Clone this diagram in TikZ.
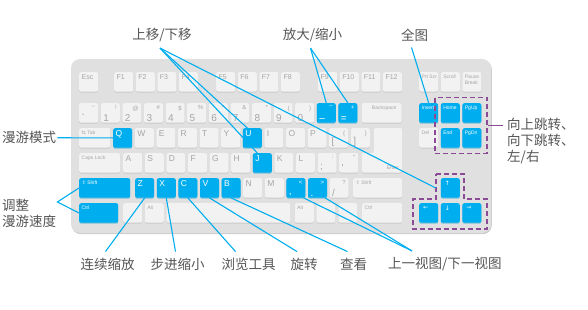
\documentclass[tikz,border=0pt]{standalone}
\usepackage{fontspec}
\newfontfamily\cjk{Noto Sans CJK SC}
\newfontfamily\keyfont{Liberation Sans}
\newfontfamily\symfont{DejaVu Sans}
\usepackage{tikz}
\usetikzlibrary{fit,shadows}
\definecolor{hotblue}{RGB}{0,174,239}
\definecolor{body}{RGB}{224,224,224}
\definecolor{keyface}{RGB}{242,242,242}
\definecolor{keyshade}{RGB}{202,202,202}
\definecolor{legendgray}{RGB}{165,165,165}
\definecolor{ink}{RGB}{85,85,85}
\definecolor{navpurple}{RGB}{138,74,150}
\tikzset{
  board/.style={fill=body, rounded corners=9pt,
              general shadow={fill=black!20, shadow xshift=0.8pt, shadow yshift=-1.2pt}},
  keybase/.style={rounded corners=2pt, minimum width=19pt, minimum height=19.5pt,
              inner sep=0pt, anchor=north west},
  key/.style={keybase, fill=keyface, general shadow={fill=keyshade, shadow yshift=-1pt}},
  hot/.style={keybase, fill=hotblue, general shadow={fill=keyshade!60!hotblue, shadow yshift=-1pt}},
  legbase/.style={text=legendgray, inner sep=0pt},
  leg/.style={legbase, font=\keyfont\fontsize{8.5}{9}\selectfont, anchor=north west, xshift=2.5pt, yshift=-2.5pt},
  hleg/.style={leg, text=white},
  fleg/.style={leg, font=\keyfont\fontsize{7}{8}\selectfont},
  tiny/.style={legbase, font=\keyfont\fontsize{5}{6}\selectfont, align=left},
  tleg/.style={tiny, anchor=north west, xshift=2.5pt, yshift=-3pt},
  htleg/.style={tleg, text=white},
  dleg/.style={legbase, font=\keyfont\fontsize{10}{10}\selectfont, anchor=south west, xshift=2.5pt, yshift=1.5pt},
  hdleg/.style={dleg, text=white},
  sleg/.style={legbase, font=\keyfont\fontsize{6}{7}\selectfont, anchor=north east, xshift=-3pt, yshift=-2.5pt},
  hsleg/.style={sleg, text=white},
  hsym/.style={legbase, text=white, font=\symfont\fontsize{6}{7}\selectfont, anchor=north west, xshift=4pt, yshift=-3pt},
  navbox/.style={draw=navpurple, line width=1.8pt, dash pattern=on 5pt off 3pt, inner sep=5.5pt},
  link/.style={hotblue, line width=1.1pt},
  navlink/.style={navpurple, line width=1.8pt},
  note/.style={font=\cjk\fontsize{13.5}{16}\selectfont, text=ink, inner xsep=1pt, inner ysep=6pt, align=left},
}
\begin{document}
\begin{tikzpicture}[x=1pt, y=-1pt]
\useasboundingbox (0,0) rectangle (588,310);

% keyboard body
\fill[board] (71,59) rectangle (491,233);

% function row
\node[key, label={[fleg]north west:Esc}] (kEsc) at (79,72) {};
\foreach \f/\x in {1/114,2/135.6,3/157.2,4/178.8,5/216,6/237.6,7/259.2,8/280.8,9/318,10/339.6,11/361.2,12/382.8}
  \node[key, label={[fleg]north west:F\f}] (kF\f) at (\x,72) {};
\node[key, label={[tleg]north west:Prt Scr}] (kPrt) at (419,72) {};
\node[key, label={[tleg]north west:Scroll}] (kScroll) at (440.6,72) {};
\node[key, label={[tleg]north west:Pause\\Break}] (kPause) at (462.2,72) {};

% number row
\foreach \lo/\up [count=\i from 0] in {\textasciigrave/\textasciitilde,1/!,2/@,3/\#,4/\$,5/\%,6/\textasciicircum,7/\&,8/*,9/(,0/)}
  \node[key, label={[dleg]south west:\lo}, label={[sleg]north east:\up}] (kn\i) at (79+\i*21.6,103) {};
\node[hot, label={[hdleg]south west:–}, label={[hsleg]north east:–}] (kMinus) at (316.6,103) {};
\node[hot, label={[hdleg]south west:{=}}, label={[hsleg]north east:{+}}] (kEqual) at (338.2,103) {};
\node[key, minimum width=40pt, label={[tleg, anchor=north]north:Backspace}] (kBack) at (361.5,103) {};
\node[hot, label={[htleg]north west:Insert}] (kIns) at (419,103) {};
\node[hot, label={[htleg]north west:Home}] (kHome) at (440.6,103) {};
\node[hot, label={[htleg]north west:PgUp}] (kPgUp) at (462.2,103) {};

% top letter row
\node[key, minimum width=31pt, label={[tleg]north west:{\symfont ⇆} Tab}] (kTab) at (79,128) {};
\foreach \l/\c in {Q/0,U/6}
  \node[hot, label={[hleg]north west:\l}] (k\l) at (113+\c*21.6,128) {};
\foreach \l/\c in {W/1,E/2,R/3,T/4,Y/5,I/7,O/8,P/9}
  \node[key, label={[leg]north west:\l}] (k\l) at (113+\c*21.6,128) {};
\node[key, label={[dleg]south west:{[}}, label={[sleg]north east:\{}] (kLBrack) at (329,128) {};
\node[key, label={[dleg]south west:{]}}, label={[sleg]north east:\}}] (kRBrack) at (350.6,128) {};
\fill[keyface, rounded corners=2pt, general shadow={fill=keyshade, shadow yshift=-1pt}]
  (374,128) -- (402,128) -- (402,172.5) -- (361.5,172.5) -- (361.5,153) -- (374,153) -- cycle;
\node[tiny, anchor=south east] (kEnter) at (399,170) {Enter};
\node[key, label={[tleg]north west:Del}] (kDel) at (419,128) {};
\node[hot, label={[htleg]north west:End}] (kEnd) at (440.6,128) {};
\node[hot, label={[htleg]north west:PgDn}] (kPgDn) at (462.2,128) {};

% home row
\node[key, minimum width=41pt, label={[tleg]north west:Caps Lock}] (kCaps) at (79,153) {};
\foreach \l/\c in {A/0,S/1,D/2,F/3,G/4,H/5,K/7,L/8}
  \node[key, label={[leg]north west:\l}] (k\l) at (123+\c*21.6,153) {};
\node[hot, label={[hleg]north west:J}] (kJ) at (252.6,153) {};
\node[key, label={[dleg]south west:;}, label={[sleg]north east:{:}}] (kSemi) at (317.4,153) {};
\node[key, label={[dleg]south west:\textquotesingle}, label={[sleg]north east:\textquotedbl}] (kQuote) at (339,153) {};

% bottom letter row
\node[hot, minimum width=51pt, label={[htleg]north west:{\symfont ⇧} Shift}] (kLShift) at (79,178) {};
\foreach \l/\c in {Z/0,X/1,C/2,V/3,B/4}
  \node[hot, label={[hleg]north west:\l}] (k\l) at (135+\c*21.6,178) {};
\foreach \l/\c in {N/5,M/6}
  \node[key, label={[leg]north west:\l}] (k\l) at (135+\c*21.6,178) {};
\node[hot, label={[hdleg]south west:{,}}, label={[hsleg]north east:{<}}] (kComma) at (286.2,178) {};
\node[hot, label={[hdleg]south west:{.}}, label={[hsleg]north east:{>}}] (kPeriod) at (307.8,178) {};
\node[key, label={[dleg]south west:/}, label={[sleg]north east:?}] (kSlash) at (329.4,178) {};
\node[key, minimum width=49pt, label={[tleg]north west:{\symfont ⇧} Shift}] (kRShift) at (353,178) {};
\node[hot, label={[hsym]north west:↑}] (kUp) at (440.6,178) {};

% space row
\node[hot, minimum width=39pt, label={[htleg]north west:Ctrl}] (kLCtrl) at (79,203) {};
\node[key] (kLWin) at (123,203) {};
\node[key, label={[tleg]north west:Alt}] (kLAlt) at (144.6,203) {};
\node[key, minimum width=124pt] (kSpace) at (166.2,203) {};
\node[key, label={[tleg]north west:Alt}] (kRAlt) at (294.6,203) {};
\node[key] (kRWin) at (316.2,203) {};
\node[key] (kMenu) at (338.2,203) {};
\node[key, minimum width=40pt, label={[tleg]north west:Ctrl}] (kRCtrl) at (362,203) {};
\node[hot, label={[hsym]north west:←}] (kLeft) at (419,203) {};
\node[hot, label={[hsym]north west:↓}] (kDown) at (440.6,203) {};
\node[hot, label={[hsym]north west:→}] (kRight) at (462.2,203) {};

% dashed groups
\node[navbox, fit=(kHome)(kPgDn)] (jumpbox) {};
\draw[navbox] (436,174) -- (464,174) -- (464,199) -- (487,199) -- (487,229)
  -- (413,229) -- (413,199) -- (436,199) -- cycle;

% labels
\node[note] (lblmove) at (162,35) {上移/下移};
\node[note] (lblzoom) at (312.5,35) {放大/缩小};
\node[note] (lblfull) at (414.5,35) {全图};
\node[note, anchor=west] (lblroam) at (1,137.75) {漫游模式};
\node[note, anchor=west] (lblspeed) at (1,213) {调整\\漫游速度};
\node[note] (lblcont) at (107.5,264) {连续缩放};
\node[note] (lblstep) at (177.5,264) {步进缩小};
\node[note] (lblbrowse) at (248.5,264) {浏览工具};
\node[note] (lblrotate) at (304,264) {旋转};
\node[note] (lblview) at (353.5,264) {查看};
\node[note, anchor=west] (lblprevnext) at (387,264) {上一视图/下一视图};
\node[note, anchor=west, inner xsep=4pt] (lbljump) at (503,141) {向上跳转、\\向下跳转、\\左/右};

% connectors
\draw[link] ([xshift=-2pt]lblmove.south) -- ([xshift=-5pt]kU.north);
\draw[link] ([xshift=-2pt]lblmove.south) -- ([xshift=-5pt]kJ.north);
\draw[link] ([xshift=-2pt]lblmove.south) -- ([xshift=-5pt]kUp.west);
\draw[link] ([xshift=-2pt]lblzoom.south) -- (kMinus.north);
\draw[link] ([xshift=-2pt]lblzoom.south) -- (kEqual.north);
\draw[link] ([xshift=-3pt]lblfull.south) -- (kIns.north);
\draw[link] (lblroam.east) -- (kQ.west);
\coordinate (speedtip) at ([yshift=11pt]lblspeed.east);
\draw[link] (kLShift.west) -- (speedtip) -- (kLCtrl.west);
\draw[link] ([xshift=-2pt]lblcont.north) -- (kZ.south);
\draw[link] ([xshift=-2pt]lblstep.north) -- (kX.south);
\draw[link] ([xshift=-13pt]lblbrowse.north) -- (kC.south);
\draw[link] ([xshift=-7pt]lblrotate.north) -- (kV.south);
\draw[link] ([xshift=-6pt]lblview.north) -- (kB.south);
\draw[link] ([xshift=25pt]lblprevnext.north west) -- ([xshift=-2pt]kComma.south east);
\draw[link] ([xshift=25pt]lblprevnext.north west) -- ([xshift=-2pt]kPeriod.south east);
\draw[navlink] (jumpbox.east) -- (jumpbox.east -| lbljump.west);
\end{tikzpicture}
\end{document}
